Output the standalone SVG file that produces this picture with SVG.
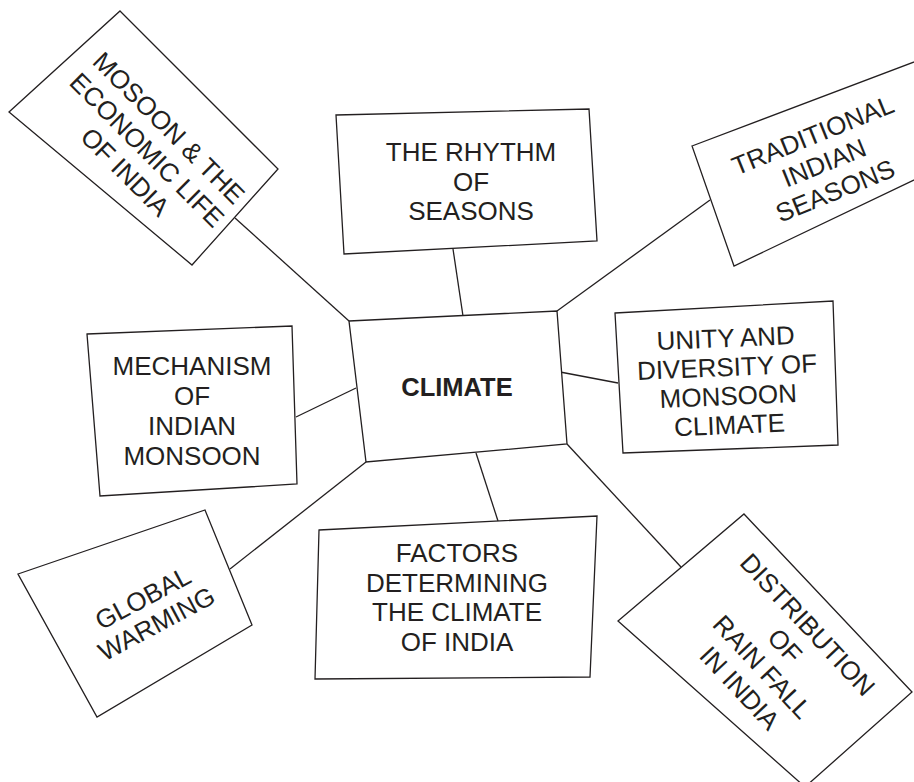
<svg xmlns="http://www.w3.org/2000/svg" width="914" height="782" viewBox="0 0 914 782">
<style>
.box{fill:#fff;stroke:#231f20;stroke-width:1.3;stroke-linejoin:miter}
.con line{stroke:#231f20;stroke-width:1.3}
text{font-family:"Liberation Sans",Arial,sans-serif;font-size:26px;fill:#231f20;text-anchor:middle}
.bold{font-weight:bold;font-size:25.5px}
</style>
<rect width="914" height="782" fill="#fff"/>
<g class="con" id="connectors">
<line x1="235" y1="218" x2="349" y2="321"/>
<line x1="453" y1="249" x2="463" y2="316"/>
<line x1="557" y1="311" x2="710" y2="200"/>
<line x1="560" y1="372" x2="618" y2="383"/>
<line x1="356" y1="388" x2="296" y2="417"/>
<line x1="366" y1="462" x2="230" y2="569"/>
<line x1="476" y1="453" x2="498" y2="521"/>
<line x1="567" y1="444" x2="681" y2="567"/>
</g>
<g id="climate">
<polygon class="box" points="349,321 557,311 567,444 366,462"/>
<text class="bold" x="457" y="396">CLIMATE</text>
</g>
<g id="mosoon">
<polygon class="box" points="120,11 278,169 192,265 9,112"/>
<g transform="translate(147,150) rotate(45)">
<text x="0" y="-22">MOSOON &amp; THE</text>
<text x="0" y="9">ECONOMIC LIFE</text>
<text x="0" y="40">OF INDIA</text>
</g>
</g>
<g id="rhythm">
<polygon class="box" points="336,115 589,109 597,241 344,254"/>
<text x="471" y="161">THE RHYTHM</text>
<text x="471" y="191">OF</text>
<text x="471" y="220">SEASONS</text>
</g>
<g id="traditional">
<polygon class="box" points="692,146 960,44.6 960,158 734,266"/>
<g transform="translate(824,163) rotate(-22)">
<text x="0" y="-21">TRADITIONAL</text>
<text x="0" y="9">INDIAN</text>
<text x="0" y="39">SEASONS</text>
</g>
</g>
<g id="unity">
<polygon class="box" points="615,313 833,301 838,445 623,453"/>
<g transform="translate(728,391) rotate(-2.5)">
<text x="0" y="-44">UNITY AND</text>
<text x="0" y="-15">DIVERSITY OF</text>
<text x="0" y="14">MONSOON</text>
<text x="0" y="43">CLIMATE</text>
</g>
</g>
<g id="mechanism">
<polygon class="box" points="87,334 292,326 297,484 100,496"/>
<text x="192" y="375">MECHANISM</text>
<text x="192" y="405">OF</text>
<text x="192" y="435">INDIAN</text>
<text x="192" y="465">MONSOON</text>
</g>
<g id="global">
<polygon class="box" points="18,574 205,510 252,625 97,717"/>
<g transform="translate(149.5,610.5) rotate(-28)">
<text x="0" y="-5">GLOBAL</text>
<text x="0" y="24">WARMING</text>
</g>
</g>
<g id="factors">
<polygon class="box" points="319,530 597,516 590,677 315,679"/>
<text x="457" y="562">FACTORS</text>
<text x="457" y="592">DETERMINING</text>
<text x="457" y="621">THE CLIMATE</text>
<text x="457" y="651">OF INDIA</text>
</g>
<g id="distribution">
<polygon class="box" points="744,514 912,692 805,787 618,621"/>
<g transform="translate(774,656) rotate(47)">
<text x="0" y="-37">DISTRIBUTION</text>
<text x="0" y="-6">OF</text>
<text x="0" y="25">RAIN FALL</text>
<text x="0" y="56">IN INDIA</text>
</g>
</g>
</svg>
